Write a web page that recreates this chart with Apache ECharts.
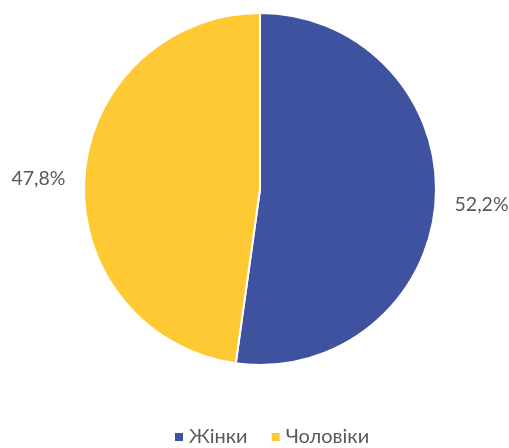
<!DOCTYPE html>
<html>
<head>
<meta charset="utf-8">
<script src="https://cdn.jsdelivr.net/npm/echarts@6/dist/echarts.min.js"></script>
<style>
  html, body { margin: 0; padding: 0; background: #fff; }
  #chart { width: 509px; height: 448px; }
</style>
</head>
<body>
<div id="chart"></div>
<script>
// Gender split (share, %)
const categories = ['Жінки', 'Чоловіки'];
const shares = [52.2, 47.8];
const colors = ['#3F529F', '#FFC933'];

const chart = echarts.init(document.getElementById('chart'));
chart.setOption({
  animation: false,
  color: colors,
  textStyle: { fontFamily: 'Lato, "Open Sans", sans-serif' },
  legend: {
    bottom: -4,
    left: 168,
    icon: 'rect',
    itemWidth: 10,
    itemHeight: 10,
    itemGap: 22,
    textStyle: { color: '#595959', fontSize: 20, fontFamily: 'Lato, sans-serif' },
    data: categories
  },
  series: [{
    type: 'pie',
    center: [260, 189],
    radius: [0, 176],
    startAngle: 90,
    clockwise: true,
    itemStyle: { borderColor: '#fff', borderWidth: 2 },
    label: {
      show: true,
      position: 'outside',
      color: '#595959',
      fontSize: 19.5,
      fontFamily: 'Lato, sans-serif',
      overflow: 'none',
      formatter: p => p.value.toFixed(1).replace('.', ',') + '%'
    },
    labelLine: { show: false, length: 14, length2: 0 },
    labelLayout: { dy: 3 },
    data: categories.map((c, i) => ({ name: c, value: shares[i] }))
  }]
});
</script>
</body>
</html>
